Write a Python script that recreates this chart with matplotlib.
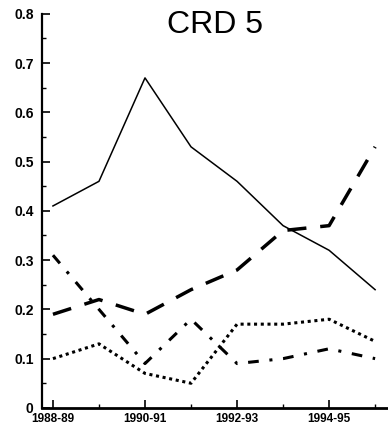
import numpy as np
import matplotlib.pyplot as plt

years = ['1988-89', '1989-90', '1990-91', '1991-92', '1992-93', '1993-94', '1994-95', '1995-96']
solid = [0.41, 0.46, 0.67, 0.53, 0.46, 0.37, 0.32, 0.24]
dashed = [0.19, 0.22, 0.19, 0.24, 0.28, 0.36, 0.37, 0.53]
dotted = [0.10, 0.13, 0.07, 0.05, 0.17, 0.17, 0.18, 0.135]
dashdot = [0.31, 0.20, 0.09, 0.18, 0.09, 0.10, 0.12, 0.10]
tick_years = ['1988-89', '1990-91', '1992-93', '1994-95']
y_ticks = [0, 0.1, 0.2, 0.3, 0.4, 0.5, 0.6, 0.7, 0.8]
y_labels = ['0', '0.1', '0.2', '0.3', '0.4', '0.5', '0.6', '0.7', '0.8']

plt.rcParams['font.family'] = ['Liberation Sans', 'DejaVu Sans']

fig = plt.figure(figsize=(3.88, 4.33), dpi=100)
ax = fig.add_axes([0.108, 0.058, 0.892, 0.91])

x = np.arange(len(years))
ax.plot(x, solid, color='black', lw=1.1)
ax.plot(x, dashed, color='black', lw=2.5, dashes=(5.5, 4))
ax.plot(x, dotted, color='black', lw=2.2, dashes=(1, 1.2))
ax.plot(x, dashdot, color='black', lw=2.2, dashes=(3.5, 3.5, 1, 3.5))

ax.set_xlim(-0.24, 7.28)
ax.set_ylim(0, 0.8)

ax.set_xticks([years.index(t) for t in tick_years])
ax.set_xticklabels(tick_years, fontsize=8.5, fontweight='bold')
ax.set_xticks(x, minor=True)
ax.set_yticks(y_ticks)
ax.set_yticklabels(y_labels, fontsize=10, fontweight='bold')
ax.set_yticks(np.arange(0.05, 0.8, 0.1), minor=True)

ax.tick_params(axis='both', which='major', direction='in', length=6, width=1.2)
ax.tick_params(axis='both', which='minor', direction='in', length=3, width=1)
ax.tick_params(axis='y', pad=6)
ax.tick_params(axis='x', pad=4)

for s in ['top', 'right']:
    ax.spines[s].set_visible(False)
ax.spines['left'].set_linewidth(1.6)
ax.spines['bottom'].set_linewidth(2)

fig.text(0.555, 0.924, 'CRD 5', fontsize=23, ha='center', va='baseline')

fig.savefig('out.png', dpi=100)
